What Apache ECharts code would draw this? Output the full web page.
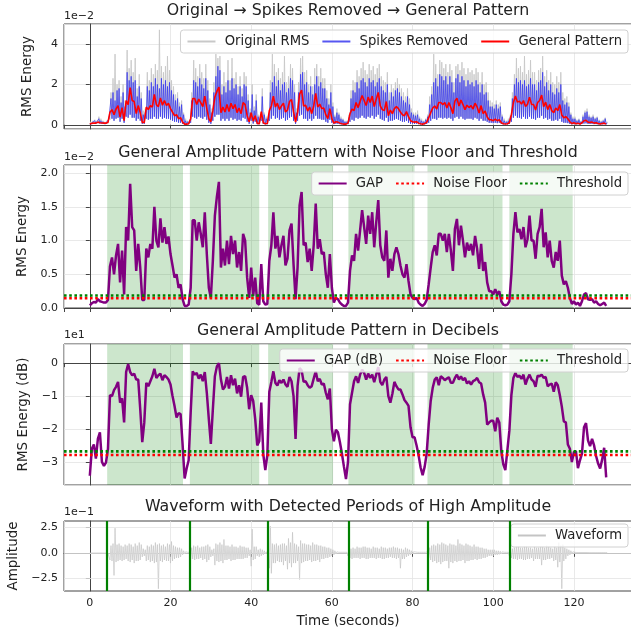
<!DOCTYPE html>
<html>
<head>
<meta charset="utf-8">
<script src="https://cdn.jsdelivr.net/npm/echarts@6/dist/echarts.min.js"></script>
<style>
  html, body { margin: 0; padding: 0; background: #fff; }
  #chart { width: 631px; height: 634px; }
</style>
</head>
<body>
<div id="chart"></div>
<script>
// ---- data ----
// everything below is sampled every 0.5 s (t = 0 .. 128)
const STEP = 0.5;
// GAP (general amplitude pattern), units of 1e-2
const gapValues = [
  0.04,0.07,0.09,0.08,0.13,0.10,0.09,0.08,0.08,0.12,
  0.62,0.75,0.50,0.78,0.95,0.38,0.85,0.20,1.20,1.00,
  1.84,1.20,1.15,0.55,0.95,0.60,0.12,0.12,0.88,0.75,
  0.95,0.88,1.50,1.00,0.90,1.33,0.97,1.20,0.95,1.06,
  0.80,0.63,0.45,0.50,0.30,0.35,0.13,0.03,0.03,0.05,
  0.30,1.30,1.30,1.00,1.27,1.10,0.90,1.42,0.80,0.30,
  0.15,0.70,1.37,1.65,1.87,0.60,0.88,0.63,1.00,0.65,
  1.07,0.80,1.00,0.60,0.83,0.55,1.10,1.00,0.45,0.15,
  0.60,0.18,0.45,0.07,0.05,0.65,0.10,0.05,0.06,0.70,
  0.93,1.42,0.88,1.07,0.75,0.93,1.07,0.63,0.73,1.15,
  1.25,0.65,0.13,0.60,1.52,1.72,0.93,0.97,0.68,0.88,
  0.55,0.93,1.55,0.88,1.02,0.80,0.83,0.50,0.30,0.80,
  0.30,0.08,0.15,0.13,0.08,0.05,0.03,0.03,0.08,0.55,
  0.78,0.70,1.10,0.85,1.15,1.45,1.20,0.95,1.37,1.10,
  1.42,0.90,1.27,1.60,0.93,0.75,0.70,1.15,0.45,0.73,
  0.55,0.80,0.90,0.80,0.63,0.50,0.45,0.65,0.40,0.20,
  0.15,0.13,0.15,0.08,0.05,0.03,0.06,0.12,0.35,0.60,
  0.83,0.93,0.78,1.10,1.10,1.00,1.10,0.83,1.10,0.85,
  0.55,1.17,1.32,0.93,1.22,1.00,0.75,0.97,0.85,0.95,
  0.78,1.07,0.88,0.58,0.95,0.55,0.68,0.38,0.25,0.25,
  0.20,0.28,0.20,0.25,0.10,0.05,0.04,0.05,0.10,0.50,
  1.10,1.42,1.12,1.17,1.02,1.20,0.90,1.02,1.37,1.00,
  1.00,0.73,1.10,1.20,1.47,0.90,1.12,0.75,1.00,0.70,
  0.60,0.83,0.70,1.00,0.48,0.35,0.40,0.30,0.15,0.06,
  0.10,0.05,0.08,0.03,0.10,0.20,0.22,0.13,0.12,0.13,
  0.08,0.10,0.06,0.04,0.06,0.08,0.03
];
// GAP in decibels
const gapDb = [
  -34.2,-26.0,-24.7,-29.0,-23.0,-21.0,-30.0,-31.2,-30.2,-26.0,
  -9.7,-10.0,-8.2,-7.2,-5.7,-12.0,-10.7,-18.0,-2.7,-0.3,
  -2.7,-3.7,-3.2,-5.0,-5.0,-14.0,-24.0,-18.0,-6.0,-7.0,
  -5.5,-4.0,-1.7,-4.5,-3.7,-3.2,-5.2,-3.7,-4.2,-5.0,
  -6.5,-10.0,-13.0,-16.5,-15.2,-15.5,-24.7,-35.0,-32.0,-29.5,
  -15.0,-2.5,-3.5,-3.0,-4.7,-3.5,-5.5,-2.7,-9.0,-17.0,
  -24.5,-14.0,-4.0,-1.0,0.0,-5.0,-8.0,-7.2,-4.2,-7.7,
  -3.7,-6.7,-4.7,-9.2,-6.7,-10.2,-4.2,-4.0,-7.5,-14.0,
  -9.7,-11.5,-17.0,-25.0,-23.7,-12.0,-27.7,-32.5,-28.0,-8.7,
  -5.7,-2.5,-6.0,-6.8,-5.2,-6.0,-5.0,-6.5,-7.2,-4.2,
  -5.5,-10.0,-23.0,-7.0,-1.5,-2.2,-5.7,-5.5,-6.7,-7.5,
  -7.0,-4.7,-2.5,-5.5,-4.8,-6.5,-6.2,-9.0,-11.0,-7.7,
  -20.0,-23.7,-20.2,-21.0,-24.0,-27.5,-31.5,-35.2,-30.0,-12.5,
  -9.0,-5.5,-4.0,-6.0,-3.5,-2.0,-3.0,-5.0,-3.2,-4.5,
  -3.5,-5.8,-3.5,-1.2,-5.7,-6.7,-5.0,-4.2,-10.0,-12.0,
  -9.3,-5.7,-7.0,-8.0,-8.0,-9.5,-11.2,-12.0,-13.0,-19.5,
  -22.5,-22.5,-25.0,-28.0,-31.7,-34.0,-31.5,-27.5,-18.7,-11.5,
  -7.5,-5.0,-4.3,-6.7,-4.0,-4.5,-5.2,-4.7,-4.3,-6.0,
  -6.0,-4.5,-3.5,-5.0,-4.0,-5.2,-4.5,-6.2,-5.5,-6.5,
  -5.5,-5.2,-4.5,-5.8,-6.2,-9.5,-12.0,-18.7,-18.0,-17.5,
  -17.5,-20.7,-16.6,-18.0,-26.7,-30.7,-32.5,-26.5,-20.5,-9.7,
  -4.5,-3.0,-4.2,-3.8,-4.8,-3.5,-6.5,-4.7,-3.5,-5.0,
  -5.5,-7.2,-3.8,-4.0,-3.5,-4.5,-4.2,-7.0,-6.5,-6.2,
  -8.7,-5.8,-6.7,-9.7,-13.2,-17.7,-18.0,-24.7,-26.0,-30.0,
  -27.0,-26.7,-31.9,-29.5,-27.5,-19.5,-18.2,-23.5,-25.2,-23.0,
  -25.0,-28.2,-30.5,-32.0,-29.3,-25.7,-34.7
];
// RMS energy (1e-2): peaks of the original, peaks after spike removal, troughs
const rmsOrigPeaks = [
  0.15,0.2,0.25,0.2,0.4,0.3,0.2,0.15,0.2,0.4,
  1.6,2.3,3.5,2.0,2.2,1.4,2.0,1.2,3.7,2.8,
  3.2,2.6,3.3,1.8,2.5,1.6,0.7,0.8,2.6,2.2,
  2.8,2.5,3.0,2.7,4.7,2.9,2.6,2.9,3.4,2.7,
  2.2,1.9,1.5,1.6,1.1,1.2,0.6,0.3,0.2,0.25,
  1.6,3.2,2.8,2.4,3.0,2.6,2.3,3.0,2.2,1.3,
  0.8,2.1,3.5,3.3,3.4,2.0,2.6,2.1,3.2,2.2,
  3.3,2.3,2.6,1.9,2.4,1.8,2.6,2.4,1.5,0.8,
  2.0,0.9,1.5,0.5,0.4,1.8,0.6,0.4,0.4,2.2,
  3.5,3.0,2.6,2.8,2.3,2.6,3.4,2.1,2.4,3.0,
  2.8,2.0,0.8,2.1,3.3,3.4,2.6,2.7,2.0,2.4,
  1.9,2.8,3.0,2.4,2.8,2.3,2.3,1.7,1.3,2.0,
  1.1,0.5,0.8,0.6,0.4,0.3,0.2,0.2,0.5,1.7,
  2.2,2.1,2.7,2.4,2.8,3.1,2.7,2.5,3.0,2.7,
  2.9,2.5,2.8,3.0,2.4,2.2,2.1,2.6,1.6,2.0,
  1.8,2.1,2.3,2.0,1.8,1.6,1.4,1.8,1.3,0.8,
  0.6,0.6,0.7,0.4,0.3,0.2,0.3,0.5,1.4,1.9,
  3.5,3.0,2.5,3.2,3.1,2.8,3.0,2.6,3.0,2.7,
  2.1,2.9,3.0,2.7,3.1,2.8,2.5,2.8,2.6,2.7,
  2.5,2.8,2.6,2.1,2.6,2.0,2.1,1.6,1.2,1.1,
  1.0,1.2,1.0,1.1,0.5,0.3,0.2,0.3,0.5,1.6,
  2.5,3.3,2.8,2.9,2.6,3.4,2.5,2.7,3.2,2.6,
  2.6,2.2,2.7,2.8,3.4,2.4,2.7,2.2,2.6,2.1,
  2.0,2.4,2.1,2.6,1.6,1.3,1.4,1.1,0.6,0.4,
  0.4,0.25,0.3,0.2,0.5,0.7,0.8,0.5,0.4,0.5,
  0.35,0.4,0.25,0.2,0.25,0.35,0.15
];
const rmsSpikesPeaks = [
  0.1,0.15,0.2,0.15,0.3,0.2,0.15,0.12,0.15,0.3,
  1.3,1.6,1.2,1.7,1.8,1.1,1.6,0.9,2.6,2.2,
  2.4,2.1,2.2,1.4,1.9,1.3,0.5,0.6,1.9,1.7,
  2.1,1.9,2.3,2.0,1.8,2.3,2.0,2.2,1.9,2.1,
  1.7,1.5,1.2,1.3,0.9,1.0,0.5,0.2,0.15,0.2,
  1.2,2.2,2.1,1.9,2.3,2.0,1.8,2.3,1.7,1.0,
  0.6,1.6,2.4,2.9,2.7,1.5,1.9,1.6,2.2,1.7,
  2.3,1.8,2.0,1.5,1.9,1.4,2.0,1.9,1.2,0.6,
  1.5,0.7,1.2,0.4,0.3,1.4,0.5,0.3,0.3,1.6,
  2.1,2.4,1.9,2.2,1.7,2.0,2.1,1.6,1.8,2.3,
  2.2,1.6,0.6,1.6,2.5,2.6,2.0,2.1,1.6,1.9,
  1.5,2.0,2.4,1.9,2.1,1.8,1.8,1.3,1.0,1.6,
  0.9,0.4,0.6,0.5,0.3,0.25,0.15,0.15,0.35,1.3,
  1.7,1.6,2.1,1.8,2.2,2.3,2.1,1.9,2.3,2.1,
  2.2,1.9,2.1,2.3,1.9,1.7,1.6,2.0,1.2,1.6,
  1.4,1.7,1.8,1.6,1.4,1.2,1.1,1.4,1.0,0.6,
  0.5,0.45,0.5,0.3,0.2,0.15,0.25,0.4,1.0,1.5,
  2.1,2.3,1.9,2.5,2.4,2.2,2.4,2.0,2.4,2.1,
  1.6,2.3,2.5,2.1,2.4,2.2,1.9,2.2,2.0,2.1,
  1.9,2.2,2.0,1.6,2.0,1.5,1.6,1.2,0.9,0.9,
  0.8,1.0,0.8,0.9,0.4,0.2,0.15,0.2,0.4,1.3,
  2.0,2.3,2.1,2.2,2.0,2.2,1.9,2.0,2.3,2.0,
  2.0,1.7,2.1,2.2,2.6,1.9,2.1,1.7,2.0,1.6,
  1.5,1.8,1.6,2.0,1.2,1.0,1.1,0.9,0.5,0.3,
  0.3,0.2,0.25,0.15,0.4,0.6,0.65,0.4,0.35,0.4,
  0.3,0.35,0.2,0.15,0.2,0.3,0.1
];
const rmsTroughs = [
  0.03,0.05,0.06,0.05,0.08,0.06,0.05,0.05,0.05,0.06,
  0.25,0.3,0.2,0.3,0.35,0.15,0.3,0.1,0.4,0.35,
  0.5,0.35,0.35,0.2,0.3,0.2,0.05,0.05,0.3,0.25,
  0.3,0.3,0.4,0.3,0.3,0.4,0.3,0.35,0.3,0.3,
  0.25,0.2,0.15,0.15,0.1,0.1,0.04,0.02,0.02,0.03,
  0.1,0.4,0.35,0.3,0.4,0.35,0.3,0.4,0.25,0.1,
  0.05,0.2,0.4,0.5,0.5,0.2,0.3,0.2,0.3,0.2,
  0.35,0.25,0.3,0.2,0.25,0.2,0.35,0.3,0.15,0.05,
  0.2,0.06,0.15,0.03,0.03,0.2,0.04,0.02,0.03,0.2,
  0.3,0.45,0.3,0.35,0.25,0.3,0.35,0.2,0.25,0.35,
  0.4,0.2,0.05,0.2,0.45,0.5,0.3,0.3,0.2,0.3,
  0.2,0.3,0.45,0.3,0.3,0.25,0.25,0.15,0.1,0.25,
  0.1,0.03,0.05,0.04,0.03,0.02,0.02,0.02,0.03,0.15,
  0.25,0.2,0.35,0.3,0.35,0.45,0.35,0.3,0.4,0.35,
  0.45,0.3,0.4,0.5,0.3,0.25,0.2,0.35,0.15,0.2,
  0.2,0.25,0.3,0.25,0.2,0.15,0.15,0.2,0.1,0.05,
  0.05,0.04,0.05,0.03,0.02,0.02,0.02,0.04,0.1,0.2,
  0.3,0.3,0.25,0.35,0.35,0.3,0.35,0.3,0.35,0.3,
  0.2,0.35,0.4,0.3,0.4,0.3,0.25,0.3,0.3,0.3,
  0.25,0.35,0.3,0.2,0.3,0.2,0.2,0.15,0.1,0.1,
  0.08,0.1,0.08,0.1,0.04,0.02,0.02,0.02,0.04,0.15,
  0.35,0.45,0.35,0.35,0.3,0.4,0.3,0.3,0.4,0.3,
  0.3,0.25,0.35,0.35,0.45,0.3,0.35,0.25,0.3,0.2,
  0.2,0.25,0.2,0.3,0.15,0.1,0.1,0.08,0.04,0.02,
  0.03,0.02,0.03,0.02,0.04,0.06,0.07,0.04,0.04,0.04,
  0.03,0.03,0.02,0.02,0.02,0.03,0.02
];
// waveform envelope (1e-1)
const waveHigh = [
  0.02,0.02,0.02,0.02,0.02,0.02,0.02,0.03,0.03,0.05,
  0.7,0.9,2.4,0.8,0.9,0.7,0.6,0.8,0.7,0.9,
  0.8,0.6,0.9,0.7,1.0,0.8,0.4,0.3,0.7,0.6,
  0.8,0.7,1.0,0.8,0.9,0.7,0.8,0.6,0.9,0.8,
  1.1,0.7,0.6,0.5,0.5,0.4,0.2,0.1,0.05,0.05,
  0.5,0.7,0.6,0.7,0.5,0.6,0.6,0.7,0.8,0.6,
  0.3,0.4,0.9,0.8,1.0,0.8,1.3,0.7,0.7,0.6,
  0.8,0.6,0.6,0.5,0.7,0.6,0.6,0.5,0.5,0.3,
  2.3,0.6,0.6,0.3,0.4,0.3,0.2,0.1,0.1,2.6,
  0.9,0.8,0.9,0.7,0.8,0.9,0.9,0.7,1.4,1.0,
  2.0,0.9,0.8,0.6,1.2,0.9,0.9,0.8,0.8,0.7,
  1.0,0.8,0.8,0.7,0.7,0.6,0.6,0.5,0.5,0.4,
  0.3,0.2,0.1,0.05,0.05,0.05,0.05,0.05,0.3,0.4,
  0.5,0.4,0.6,0.5,0.5,0.6,0.6,0.5,0.5,0.4,
  0.6,0.5,0.5,0.4,0.6,0.5,0.5,0.4,0.5,0.5,
  0.6,0.5,0.5,0.4,0.4,0.3,0.5,0.4,0.3,0.2,
  0.1,0.08,0.05,0.05,0.05,0.05,0.05,0.1,0.5,0.7,
  0.8,0.7,0.9,0.8,1.0,0.9,0.8,0.7,0.9,0.8,
  0.8,0.7,1.3,0.9,0.8,0.7,0.9,0.8,0.7,0.6,
  0.8,0.6,0.6,0.5,0.5,0.4,0.4,0.3,0.3,0.3,
  0.3,0.2,0.2,0.15,0.1,0.05,0.05,0.05,0.3,0.4,
  0.5,0.6,0.6,0.5,0.5,0.6,0.6,0.5,0.5,0.4,
  0.6,0.5,0.5,0.6,0.6,0.5,0.7,0.6,0.5,0.4,
  0.6,0.5,1.0,0.7,0.8,0.5,0.4,0.3,0.2,0.1,
  0.05,0.03,0.03,0.03,0.03,0.03,0.03,0.02,0.02,0.02,
  0.02,0.02,0.02,0.02,0.02,0.02,0.02
];
const waveLow = [
  -0.02,-0.02,-0.02,-0.02,-0.02,-0.02,-0.02,-0.03,-0.03,-0.05,
  -0.7,-0.8,-2.2,-0.9,-0.8,-0.7,-0.8,-0.7,-0.6,-0.8,
  -0.9,-0.7,-1.0,-0.8,-0.8,-0.7,-0.4,-0.3,-0.8,-0.7,
  -0.9,-0.8,-1.0,-0.9,-3.5,-0.8,-0.9,-0.7,-0.8,-0.8,
  -1.0,-0.8,-0.6,-0.5,-0.5,-0.4,-0.2,-0.1,-0.05,-0.05,
  -0.6,-0.6,-0.7,-0.6,-0.6,-0.5,-0.7,-0.6,-0.9,-0.7,
  -0.4,-0.3,-1.2,-0.8,-0.9,-0.8,-1.0,-0.7,-0.7,-0.6,
  -0.8,-0.7,-0.7,-0.6,-0.6,-0.6,-0.6,-0.5,-0.5,-0.3,
  -1.3,-0.7,-0.6,-0.3,-0.4,-0.3,-0.2,-0.1,-0.1,-1.5,
  -2.0,-1.0,-1.0,-0.8,-0.9,-0.9,-1.2,-0.8,-1.6,-1.0,
  -1.4,-1.0,-1.0,-0.8,-2.6,-1.0,-0.9,-0.8,-0.8,-0.7,
  -0.9,-0.8,-0.8,-0.7,-0.9,-0.6,-0.6,-0.5,-0.5,-0.4,
  -0.3,-0.2,-0.1,-0.05,-0.05,-0.05,-0.05,-0.05,-0.3,-0.5,
  -0.6,-0.5,-0.5,-0.5,-0.6,-0.5,-0.5,-0.6,-0.6,-0.5,
  -0.5,-0.5,-0.6,-0.5,-0.5,-0.6,-0.6,-0.5,-0.5,-0.4,
  -0.5,-0.5,-0.6,-0.5,-1.5,-0.6,-0.6,-0.4,-0.3,-0.2,
  -0.1,-0.08,-0.05,-0.05,-0.05,-0.05,-0.05,-0.1,-0.5,-0.7,
  -0.9,-0.8,-1.0,-0.9,-1.1,-0.9,-0.8,-0.8,-1.5,-0.9,
  -1.0,-0.8,-0.9,-0.8,-0.8,-0.7,-1.0,-0.8,-0.8,-0.7,
  -0.7,-0.6,-0.7,-0.6,-0.6,-0.5,-0.5,-0.4,-0.3,-0.3,
  -0.3,-0.2,-0.2,-0.15,-0.1,-0.05,-0.05,-0.05,-0.3,-0.5,
  -0.6,-0.6,-0.7,-0.6,-0.6,-0.7,-0.7,-0.6,-0.6,-0.5,
  -0.8,-0.6,-0.6,-0.6,-1.2,-0.7,-0.7,-0.6,-0.6,-0.5,
  -0.8,-0.7,-1.4,-0.9,-3.5,-0.8,-0.6,-0.3,-0.2,-0.1,
  -0.05,-0.03,-0.03,-0.03,-0.03,-0.03,-0.03,-0.02,-0.02,-0.02,
  -0.02,-0.02,-0.02,-0.02,-0.02,-0.02,-0.02
];
// detected periods of high amplitude (seconds)
const periodStarts = [4.3, 24.8, 44.2, 64.1, 83.7, 104.0];
const periodEnds = [23.1, 42.0, 60.3, 80.5, 102.3, 119.7];
const noiseFloor = 0.145, threshold = 0.185;       // 1e-2
const noiseFloorDb = -27.9, thresholdDb = -26.8;  // dB
const waveTicks = [-2.5, 0, 2.5];

// ---- helpers ----
const FONT = 'DejaVu Sans';
const X_MIN = -6.4, X_MAX = 134.4;
const MINUS = '\u2212';
const fmt = (s) => String(s).replace('-', MINUS);

// alternate trough / peak so the line shows the fast oscillation
function zigzag(lows, highs) {
    const out = [];
    lows.forEach((lo, i) => {
        out.push([i * STEP, lo], [i * STEP + STEP / 2, highs[i]]);
    });
    return out;
}
const gapSeries = gapValues.map((v, i) => [i * STEP, v]);
const dbSeries = gapDb.map((v, i) => [i * STEP, v]);
const spans = periodStarts.map((s, i) => [{ xAxis: s }, { xAxis: periodEnds[i] }]);
const flat = (v) => [[X_MIN, v], [X_MAX, v]];

const grids = [
    { top: 24, height: 105 },
    { top: 165, height: 143 },
    { top: 344, height: 141 },
    { top: 521, height: 70 },
].map(g => Object.assign({
    left: 64, width: 568, show: true, borderColor: '#444', borderWidth: 1,
    backgroundColor: '#fff', outerBoundsMode: 'none', containLabel: false,
}, g));

function xAxis(i) {
    const last = i === 3;
    return {
        type: 'value', gridIndex: i, min: X_MIN, max: X_MAX, splitNumber: 7,
        axisLine: { show: true, lineStyle: { color: '#444' } },
        axisTick: { show: true, length: 4, lineStyle: { color: '#444' } },
        axisLabel: {
            show: last, color: '#222', fontFamily: FONT, fontSize: 11, margin: 7,
            showMinLabel: false, showMaxLabel: false,
        },
        splitLine: { show: true, lineStyle: { color: '#e3e3e3', width: 0.8 } },
        name: last ? 'Time (seconds)' : '', nameLocation: 'middle', nameGap: 23,
        nameTextStyle: { color: '#222', fontFamily: FONT, fontSize: 13.5 },
    };
}
function yAxis(i, min, max, name, gap, formatter, extra) {
    return Object.assign({
        type: 'value', gridIndex: i, min: min, max: max,
        axisLine: { show: true, lineStyle: { color: '#444' } },
        axisTick: { show: true, length: 4, lineStyle: { color: '#444' } },
        axisLabel: {
            color: '#222', fontFamily: FONT, fontSize: 11, margin: 6,
            showMinLabel: false, showMaxLabel: false, formatter: formatter,
        },
        splitLine: { show: true, lineStyle: { color: '#e3e3e3', width: 0.8 } },
        name: name, nameLocation: 'middle', nameGap: gap, nameRotate: 90,
        nameTextStyle: { color: '#222', fontFamily: FONT, fontSize: 13.5 },
    }, extra || {});
}

function legend(names, top, right) {
    return {
        data: names, top: top, right: right, orient: 'horizontal',
        itemWidth: 28, itemHeight: 12, itemGap: 12,
        padding: [5, 6, 5, 6],
        itemStyle: { opacity: 0 },
        formatter: (name) => ' ' + name,
        backgroundColor: 'rgba(255,255,255,0.8)', borderColor: '#d0d0d0',
        borderWidth: 1, borderRadius: 3,
        textStyle: { color: '#222', fontFamily: FONT, fontSize: 13.2 },
        selectedMode: false,
    };
}

function title(text, top) {
    return {
        text: text, left: 348, textAlign: 'center', top: top, padding: 0,
        textStyle: { color: '#222', fontFamily: FONT, fontSize: 15.8, fontWeight: 'normal' },
    };
}
function offsetText(text, top) {
    return { type: 'text', left: 64, top: top, style: { text: text, font: '11px "DejaVu Sans"', fill: '#222' } };
}

const option = {
    animation: false,
    backgroundColor: '#fff',
    title: [
        title('Original \u2192 Spikes Removed \u2192 General Pattern', 3),
        title('General Amplitude Pattern with Noise Floor and Threshold', 145),
        title('General Amplitude Pattern in Decibels', 323),
        title('Waveform with Detected Periods of High Amplitude', 499),
    ],
    graphic: [
        offsetText('1e' + MINUS + '2', 11),
        offsetText('1e' + MINUS + '2', 152),
        offsetText('1e1', 330),
        offsetText('1e' + MINUS + '1', 507),
    ],
    legend: [
        legend(['Original RMS', 'Spikes Removed', 'General Pattern'], 30, 3),
        legend(['GAP', 'Noise Floor', 'Threshold'], 172, 3),
        legend(['GAP (dB)', 'Noise Floor', 'Threshold'], 349, 3),
        legend(['Waveform'], 524, 3),
    ],
    grid: grids,
    xAxis: [xAxis(0), xAxis(1), xAxis(2), xAxis(3)],
    yAxis: [
        yAxis(0, -0.21, 4.99, 'RMS Energy', 30, (v) => fmt(v), { splitNumber: 3 }),
        yAxis(1, 0, 2.12, 'RMS Energy', 30, (v) => v.toFixed(1), {
            splitNumber: 4,
            axisLabel: {
                color: '#222', fontFamily: FONT, fontSize: 11, margin: 6,
                showMinLabel: true, showMaxLabel: false, formatter: (v) => v.toFixed(1),
            },
        }),
        yAxis(2, -37, 5.8, 'RMS Energy (dB)', 30, (v) => fmt(v / 10), { splitNumber: 4 }),
        yAxis(3, -3.72, 3.1, 'Amplitude', 42, (v) => fmt(v.toFixed(1)), {
            axisLabel: {
                color: '#222', fontFamily: FONT, fontSize: 11, margin: 6,
                customValues: waveTicks, formatter: (v) => fmt(v.toFixed(1)),
            },
            axisTick: { show: true, length: 4, lineStyle: { color: '#444' }, customValues: waveTicks },
            splitLine: { show: false },
        }),
    ],
    series: [
        // panel 1
        {
            name: 'Original RMS', type: 'line', xAxisIndex: 0, yAxisIndex: 0,
            data: zigzag(rmsTroughs, rmsOrigPeaks), symbol: 'none',
            lineStyle: { color: '#c8c8c8', width: 0.9 }, itemStyle: { color: '#c8c8c8' },
        },
        {
            name: 'Spikes Removed', type: 'line', xAxisIndex: 0, yAxisIndex: 0,
            data: zigzag(rmsTroughs, rmsSpikesPeaks), symbol: 'none',
            lineStyle: { color: '#3838ee', width: 0.9, opacity: 0.85 }, itemStyle: { color: '#3838ee' },
        },
        {
            name: 'General Pattern', type: 'line', xAxisIndex: 0, yAxisIndex: 0,
            data: gapSeries, symbol: 'none',
            lineStyle: { color: '#ff0000', width: 1.6 }, itemStyle: { color: '#ff0000' },
        },
        // panel 2
        {
            name: 'periods', type: 'line', xAxisIndex: 1, yAxisIndex: 1, data: [], z: 1,
            markArea: { silent: true, itemStyle: { color: 'rgba(0,128,0,0.2)' }, data: spans },
        },
        {
            name: 'GAP', type: 'line', xAxisIndex: 1, yAxisIndex: 1, z: 3,
            data: gapSeries, symbol: 'none',
            lineStyle: { color: '#800080', width: 2.5 }, itemStyle: { color: '#800080' },
        },
        {
            name: 'Noise Floor', type: 'line', xAxisIndex: 1, yAxisIndex: 1, z: 4,
            data: flat(noiseFloor), symbol: 'none',
            lineStyle: { color: '#ff0000', width: 2.6, type: [2.6, 2.6] }, itemStyle: { color: '#ff0000' },
        },
        {
            name: 'Threshold', type: 'line', xAxisIndex: 1, yAxisIndex: 1, z: 4,
            data: flat(threshold), symbol: 'none',
            lineStyle: { color: '#008000', width: 2.6, type: [2.6, 2.6] }, itemStyle: { color: '#008000' },
        },
        // panel 3
        {
            name: 'periods', type: 'line', xAxisIndex: 2, yAxisIndex: 2, data: [], z: 1,
            markArea: { silent: true, itemStyle: { color: 'rgba(0,128,0,0.2)' }, data: spans },
        },
        {
            name: 'GAP (dB)', type: 'line', xAxisIndex: 2, yAxisIndex: 2, z: 3,
            data: dbSeries, symbol: 'none',
            lineStyle: { color: '#800080', width: 2.5 }, itemStyle: { color: '#800080' },
        },
        {
            name: 'Noise Floor', type: 'line', xAxisIndex: 2, yAxisIndex: 2, z: 4,
            data: flat(noiseFloorDb), symbol: 'none',
            lineStyle: { color: '#ff0000', width: 2.6, type: [2.6, 2.6] }, itemStyle: { color: '#ff0000' },
        },
        {
            name: 'Threshold', type: 'line', xAxisIndex: 2, yAxisIndex: 2, z: 4,
            data: flat(thresholdDb), symbol: 'none',
            lineStyle: { color: '#008000', width: 2.6, type: [2.6, 2.6] }, itemStyle: { color: '#008000' },
        },
        // panel 4
        {
            name: 'gridlines', type: 'line', xAxisIndex: 3, yAxisIndex: 3, data: [], z: 1,
            markLine: {
                silent: true, symbol: 'none', label: { show: false },
                lineStyle: { color: '#e3e3e3', width: 0.8, type: 'solid' },
                data: waveTicks.map(v => ({ yAxis: v })),
            },
        },
        {
            name: 'Waveform', type: 'line', xAxisIndex: 3, yAxisIndex: 3, z: 3,
            data: zigzag(waveLow, waveHigh), symbol: 'none',
            lineStyle: { color: '#c4c4c4', width: 0.7 }, itemStyle: { color: '#c4c4c4' },
            markLine: {
                silent: true, symbol: 'none', label: { show: false },
                lineStyle: { color: '#008000', width: 2.2, type: 'solid' },
                data: periodStarts.map(s => ({ xAxis: s })),
            },
        },
    ],
};

const chart = echarts.init(document.getElementById('chart'), null, { renderer: 'canvas' });
chart.setOption(option);
</script>
</body>
</html>
